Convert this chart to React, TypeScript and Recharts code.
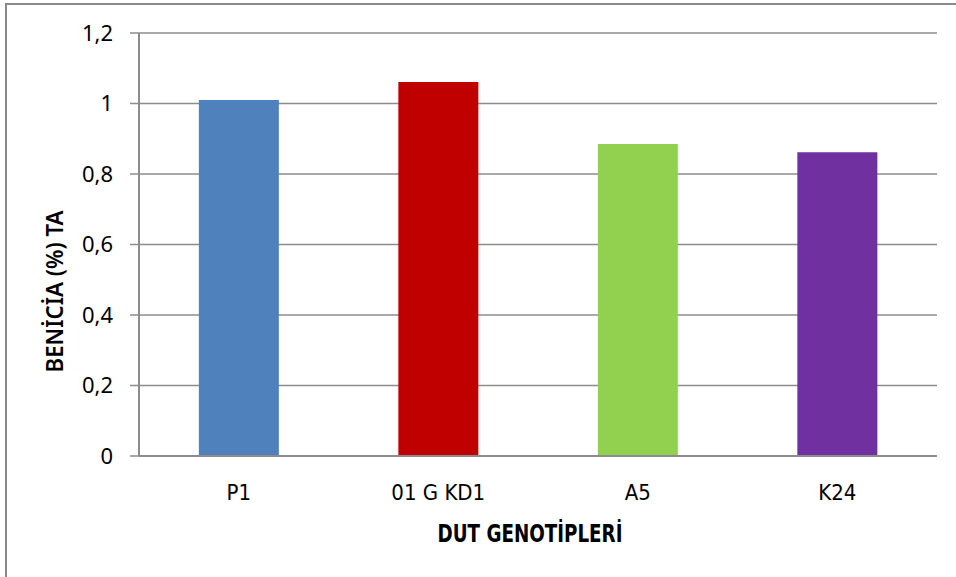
import { BarChart, Bar, XAxis, YAxis, CartesianGrid, Cell, Label } from "recharts";

const CATEGORIES = ["P1", "01 G KD1", "A5", "K24"];
const VALUES = [1.01, 1.061, 0.885, 0.862];
const BAR_COLORS = ["#4F81BD", "#C00000", "#92D050", "#7030A0"];
const Y_TICKS = [0, 0.2, 0.4, 0.6, 0.8, 1, 1.2];

const X_TITLE = "DUT GENOTİPLERİ";
const Y_TITLE = "BENİCİA (%) TA";

const GRID = "#8c8c8c";
const NARROW = "'DejaVu Sans Condensed', 'DejaVu Sans', sans-serif";
const SANS = "'Noto Sans', 'Open Sans', sans-serif";

const data = CATEGORIES.map((name, i) => ({ name, value: VALUES[i] }));

// rotated title, baseline sits 17px left of the tick labels
function YTitle(props: any) {
  const vb = props.viewBox || {};
  const cx = vb.x + 4;
  const cy = vb.y + vb.height / 2 + 47;
  return (
    <text
      x={cx}
      y={cy}
      transform={`rotate(-90 ${cx} ${cy})`}
      textAnchor="middle"
      fontFamily={SANS}
      fontSize={23}
      fontWeight={600}
      textLength={162}
      lengthAdjust="spacingAndGlyphs"
      fill="#000"
    >
      {Y_TITLE}
    </text>
  );
}

function XTitle(props: any) {
  const vb = props.viewBox || {};
  const cx = vb.x + vb.width / 2 - 8;
  return (
    <text
      x={cx}
      y={542}
      textAnchor="middle"
      fontFamily={NARROW}
      fontSize={25}
      fontWeight={700}
      textLength={185}
      lengthAdjust="spacingAndGlyphs"
      fill="#000"
    >
      {X_TITLE}
    </text>
  );
}

export default function App() {
  return (
    <div style={{ position: "absolute", left: 0, top: 0, width: 956, height: 577, background: "#fff", overflow: "hidden" }}>
      <div
        style={{
          position: "absolute",
          left: 5,
          top: 3,
          width: 970,
          height: 590,
          border: "2px solid #8a8a8a",
          boxSizing: "border-box",
        }}
      />
      <BarChart
        width={956}
        height={577}
        data={data}
        margin={{ top: 33, right: 19, left: 59, bottom: 61 }}
        barCategoryGap="30%"
        style={{ position: "absolute", left: 0, top: 0 }}
      >
        <CartesianGrid vertical={false} stroke={GRID} strokeWidth={1.5} />
        <XAxis
          dataKey="name"
          height={60}
          tickLine={false}
          tickSize={0}
          tickMargin={28}
          axisLine={{ stroke: GRID, strokeWidth: 2 }}
          tick={{ fill: "#000", fontSize: 22, fontFamily: NARROW }}
          interval={0}
        >
          <Label content={<XTitle />} />
        </XAxis>
        <YAxis
          width={80}
          domain={[0, 1.2]}
          ticks={Y_TICKS}
          tickSize={9}
          tickMargin={17}
          tickLine={{ stroke: GRID, strokeWidth: 1.5 }}
          axisLine={{ stroke: GRID, strokeWidth: 2 }}
          tick={{ fill: "#000", fontSize: 22, fontFamily: SANS }}
          tickFormatter={(v: number) => String(v).replace(".", ",")}
        >
          <Label content={<YTitle />} />
        </YAxis>
        <Bar dataKey="value" isAnimationActive={false}>
          {data.map((_, i) => (
            <Cell key={i} fill={BAR_COLORS[i]} />
          ))}
        </Bar>
      </BarChart>
    </div>
  );
}
